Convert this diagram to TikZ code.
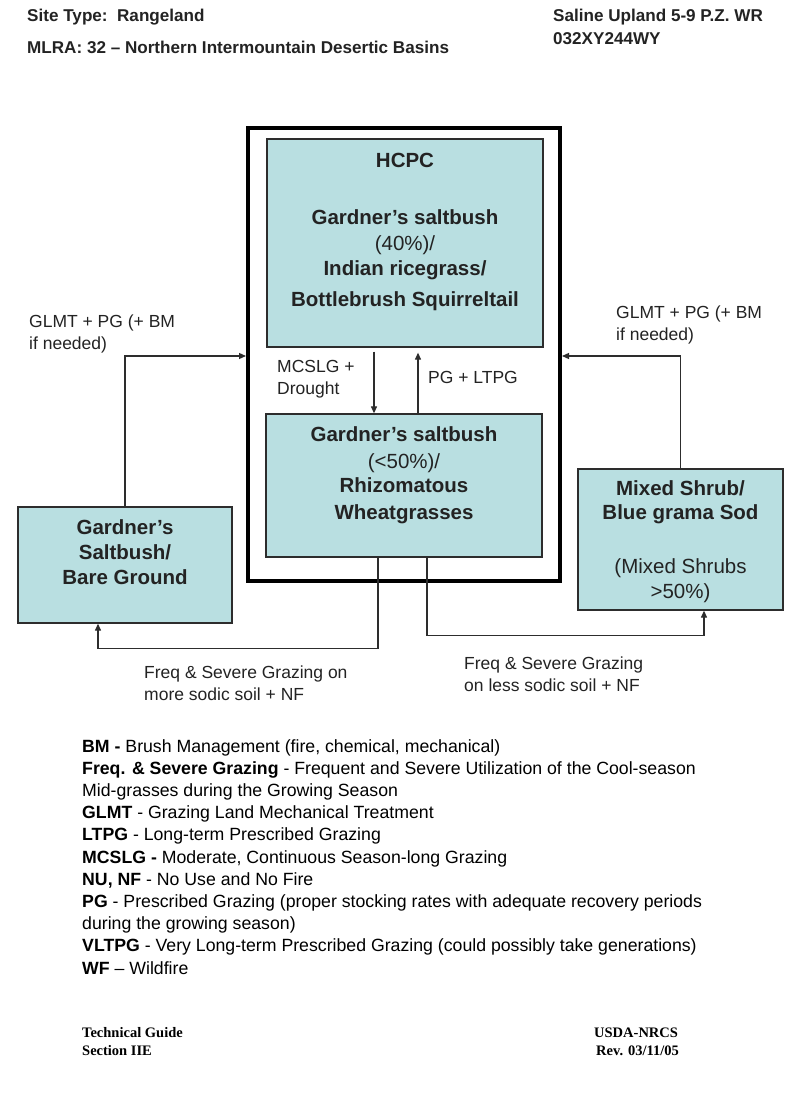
\documentclass[tikz,border=0pt]{standalone}
\usepackage{fontspec}
\setmainfont{Liberation Sans}
\newfontfamily\footfont{Liberation Serif}
\usetikzlibrary{arrows.meta}
\definecolor{boxfill}{RGB}{185,223,225}
\definecolor{linegray}{RGB}{45,45,45}
\definecolor{textgray}{RGB}{35,35,35}
\begin{document}
\begin{tikzpicture}[x=1pt,y=-1pt,
  statebox/.style={draw=linegray, line width=1.3pt, fill=boxfill, inner sep=0pt},
  outerbox/.style={draw=black, line width=4pt, inner sep=0pt, minimum width=312pt, minimum height=453pt},
  hdr/.style={font=\fontsize{17.1}{21}\selectfont\bfseries, text=textgray, inner sep=0pt, anchor=base west},
  lbl/.style={font=\fontsize{17.5}{21.5}\selectfont, text=textgray, inner sep=0pt, anchor=base west, align=left},
  legend/.style={font=\fontsize{17.7}{22.2}\selectfont, text=black, inner sep=0pt, anchor=base west, align=left},
  foot/.style={font=\footfont\fontsize{14.5}{18}\selectfont\bfseries, inner sep=0pt, anchor=base west},
  arr/.style={draw=linegray, line width=1.2pt, -{Triangle[length=7pt,width=6pt]}},
]
\useasboundingbox (0,0) rectangle (800,1108);
\fill[white] (0,0) rectangle (800,1108);

% header
\node[hdr] (site) at (27,22) {Site Type:\ \ Rangeland};
\node[hdr] (mlra) at (27,53) {MLRA: 32 – Northern Intermountain Desertic Basins};
\node[hdr] (saline) at (553,22) {Saline Upland 5-9 P.Z. WR};
\node[hdr] (code) at (553,45) {032XY244WY};

% outer HCPC frame
\node[outerbox] (outer) at (404,354.5) {};

% state boxes
\node[statebox] (hcpc) at (405,243) {\begin{minipage}[c][208pt][t]{276pt}\centering
\fontsize{20.5}{26}\selectfont\bfseries\color{textgray}
\vspace*{14pt}HCPC\\[31pt]
Gardner’s saltbush\\
{\mdseries (40\%)/}\\[-1pt]
Indian ricegrass/\\[5pt]
Bottlebrush Squirreltail
\end{minipage}};

\node[statebox] (lower) at (404,485.5) {\begin{minipage}[c][143pt][t]{276pt}\centering
\fontsize{20.5}{26}\selectfont\bfseries\color{textgray}
\vspace*{13pt}Gardner’s saltbush\\[1pt]
{\mdseries (<50\%)/}\\[-2pt]
Rhizomatous\\[1pt]
Wheatgrasses
\end{minipage}};

\node[statebox] (left) at (125,565) {\begin{minipage}[c][116pt][t]{214pt}\centering
\fontsize{20.5}{25}\selectfont\bfseries\color{textgray}
\vspace*{13pt}Gardner’s\\
Saltbush/\\
Bare Ground
\end{minipage}};

\node[statebox] (right) at (680.5,539.5) {\begin{minipage}[c][141pt][t]{205pt}\centering
\fontsize{20.5}{25}\selectfont\bfseries\color{textgray}
\vspace*{12pt}Mixed Shrub/\\[-1pt]
Blue grama Sod\\[29pt]
{\mdseries (Mixed Shrubs}\\
{\mdseries >50\%)}
\end{minipage}};

% connectors
\draw[arr, shorten <=4pt] ([xshift=-31pt]hcpc.south) -- ([xshift=-30pt]lower.north);
\draw[arr, shorten >=5pt] ([xshift=14pt]lower.north) -- ([xshift=13pt]hcpc.south);
\draw[arr] (left.north) |- ([yshift=-1.5pt]outer.west);
\draw[arr] (right.north) |- ([yshift=-1.5pt]outer.east);
\draw[arr] ([xshift=-26pt]lower.south) -- ++(0,91) -| ([xshift=-27pt]left.south);
\draw[arr] ([xshift=23pt]lower.south) -- ++(0,78) -| ([xshift=23.5pt]right.south);

% labels (base anchor = baseline of last line)
\node[lbl] (l1) at (29,349) {GLMT + PG (+ BM\\if needed)};
\node[lbl] (l2) at (616,340) {GLMT + PG (+ BM\\if needed)};
\node[lbl] (l3) at (277,394) {MCSLG +\\Drought};
\node[lbl] (l4) at (428,383) {PG + LTPG};
\node[lbl] (l5) at (144,700) {Freq \& Severe Grazing on\\more sodic soil + NF};
\node[lbl] (l6) at (464,691) {Freq \& Severe Grazing\\on less sodic soil + NF};

% legend
\node[legend] (leg) at (82,974) {\textbf{BM -} Brush Management (fire, chemical, mechanical)\\
\textbf{Freq. \& Severe Grazing} - Frequent and Severe Utilization of the Cool-season\\
Mid-grasses during the Growing Season\\
\textbf{GLMT} - Grazing Land Mechanical Treatment\\
\textbf{LTPG} - Long-term Prescribed Grazing\\
\textbf{MCSLG -} Moderate, Continuous Season-long Grazing\\
\textbf{NU, NF} - No Use and No Fire\\
\textbf{PG} - Prescribed Grazing (proper stocking rates with adequate recovery periods\\
during the growing season)\\
\textbf{VLTPG} - Very Long-term Prescribed Grazing (could possibly take generations)\\
\textbf{WF} – Wildfire};

% footer
\node[foot] (f1) at (82,1037) {Technical Guide};
\node[foot] (f2) at (82,1055) {Section IIE};
\node[foot] (f3) at (594,1037) {USDA-NRCS};
\node[foot] (f4) at (596,1055) {Rev. 03/11/05};
\end{tikzpicture}
\end{document}
